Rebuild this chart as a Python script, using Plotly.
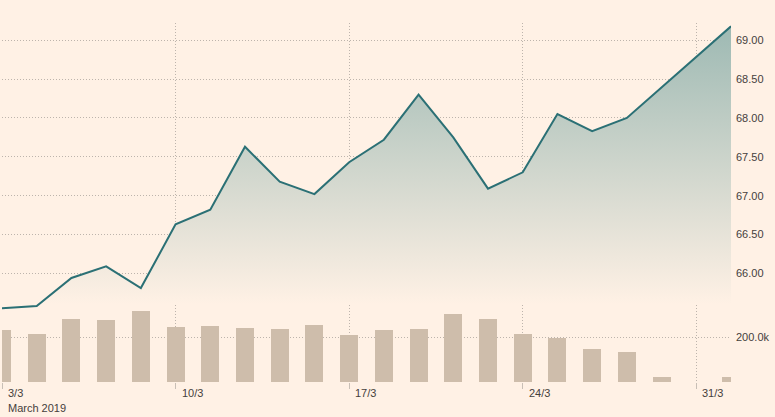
import plotly.graph_objects as go

# ---- data ----
dates = ["2019-03-03", "2019-03-04", "2019-03-05", "2019-03-06", "2019-03-07",
         "2019-03-10", "2019-03-11", "2019-03-12", "2019-03-13", "2019-03-14",
         "2019-03-17", "2019-03-18", "2019-03-19", "2019-03-20", "2019-03-21",
         "2019-03-24", "2019-03-25", "2019-03-26", "2019-03-27", "2019-03-28",
         "2019-03-31", "2019-04-01"]
price = [65.55, 65.58, 65.94, 66.09, 65.81, 66.63, 66.82, 67.63, 67.18, 67.02,
         67.43, 67.72, 68.30, 67.75, 67.09, 67.30, 68.05, 67.83, 68.00, 68.39,
         None, 69.18]
volume = [233000, 215000, 282000, 278000, 318000, 246000, 251000, 242000, 237000, 255000,
          210000, 233000, 237000, 305000, 282000, 215000, 197000, 147000, 134000, 21000,
          None, 21000]
tick_idx = [0, 5, 10, 15, 20]
tick_labels = ["3/3", "10/3", "17/3", "24/3", "31/3"]
period_label = "March 2019"
price_ticks = [66.0, 66.5, 67.0, 67.5, 68.0, 68.5, 69.0]
volume_ticks = [200000]
volume_tick_text = ["200.0k"]

BG = "#fff1e5"
LINE = "#2b7075"
BAR = "#cebdab"
GRID = "#bdb4ac"
TEXT = "#45403c"
FONT = "Liberation Sans, Arial, sans-serif"
DOT = "1px,2px"

fig = go.Figure()

fig.add_trace(go.Bar(
    x=dates, y=volume, xaxis="x", yaxis="y2",
    marker=dict(color=BAR, line=dict(width=0)),
    width=0.52, hoverinfo="skip",
))

fig.add_trace(go.Scatter(
    x=dates, y=price, xaxis="x", yaxis="y",
    mode="lines", connectgaps=True,
    line=dict(color=LINE, width=2),
    fill="tozeroy",
    fillgradient=dict(type="vertical", start=65.6, stop=69.2,
                      colorscale=[[0, "rgba(255,241,229,1)"], [1, "#9db9b3"]]),
    hoverinfo="skip",
))

annotations = []
for i, lab in zip(tick_idx, tick_labels):
    annotations.append(dict(
        x=dates[i], xref="x", y=0, yref="paper", text=lab, showarrow=False,
        xanchor="left", yanchor="top", xshift=4, yshift=-3,
        font=dict(family=FONT, size=11, color=TEXT),
    ))
annotations.append(dict(
    x=dates[0], xref="x", y=0, yref="paper", text=period_label, showarrow=False,
    xanchor="left", yanchor="top", xshift=4, yshift=-18,
    font=dict(family=FONT, size=11, color=TEXT),
))

fig.update_layout(
    width=775, height=417,
    margin=dict(l=2, r=44, t=23, b=35),
    paper_bgcolor=BG, plot_bgcolor="rgba(0,0,0,0)",
    showlegend=False,
    bargap=0,
    font=dict(family=FONT, size=11, color=TEXT),
    xaxis=dict(
        type="category", range=[0, 21], anchor="y2",
        tickvals=[dates[i] for i in tick_idx], ticktext=tick_labels,
        showticklabels=False,
        ticks="outside", ticklen=6, tickcolor="#c8bfb6", tickwidth=1,
        showgrid=True, gridcolor=GRID, griddash=DOT, gridwidth=1,
        showline=False, zeroline=False,
    ),
    yaxis=dict(
        domain=[0.195, 1], range=[65.502, 69.223], side="right", anchor="x",
        tickvals=price_ticks, tickformat=".2f",
        ticks="", ticklabelstandoff=4,
        showgrid=True, gridcolor=GRID, griddash=DOT, gridwidth=1,
        zeroline=False, showline=False,
        tickfont=dict(family=FONT, size=11, color=TEXT),
    ),
    yaxis2=dict(
        domain=[0, 0.2145], range=[0, 344500], side="right", anchor="x",
        tickvals=volume_ticks, ticktext=volume_tick_text,
        ticks="", ticklabelstandoff=4,
        showgrid=True, gridcolor=GRID, griddash=DOT, gridwidth=1,
        zeroline=False, showline=False,
        tickfont=dict(family=FONT, size=11, color=TEXT),
    ),
    annotations=annotations,
)

fig.write_html("out.html",
               config={"displayModeBar": False},
               post_script="document.body.style.margin='0';document.body.style.background='%s';" % BG)
